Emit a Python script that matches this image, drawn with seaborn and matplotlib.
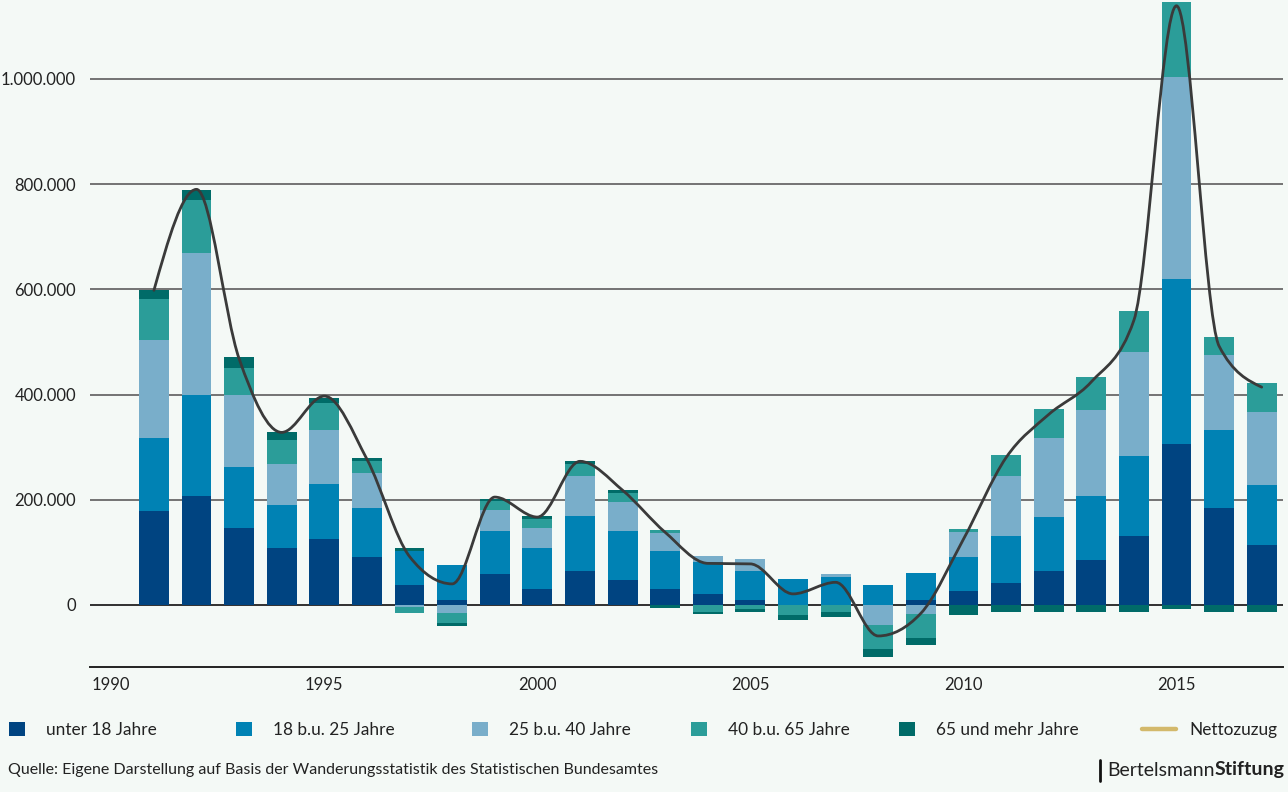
import numpy as np
import pandas as pd
import matplotlib
matplotlib.use("Agg")
import matplotlib.pyplot as plt
from matplotlib.path import Path
from matplotlib.patches import PathPatch, Patch
from matplotlib.lines import Line2D
import seaborn as sns

# ---------------- data (persons) ----------------
years = list(range(1991, 2018))
unter18 = [179000, 207000, 146000, 108000, 125000, 91000, 37000, 10000, 59000, 31000,
           65000, 48000, 30000, 21500, 10000, 0, 0, 0, 10000, 27000,
           42000, 65000, 85000, 131000, 306000, 184000, 114000]
j18_25 = [139000, 192000, 116000, 82000, 104000, 93000, 66000, 66500, 82000, 78000,
          104000, 93000, 72000, 61000, 55000, 50000, 54000, 38500, 51000, 65000,
          89000, 102500, 121500, 152000, 313000, 148000, 114000]
j25_40 = [185500, 270000, 137000, 78000, 103000, 66000, -4600, -16000, 40000, 38000,
          76000, 55000, 34000, 11400, 23000, 0, 5700, -39000, -16500, 46000,
          114000, 150000, 165000, 197500, 384000, 144000, 139000]
j40_65 = [78000, 100600, 51000, 46000, 51000, 23000, -11600, -17700, 17000, 17000,
          23000, 17000, 5700, -12700, -7000, -18400, -12700, -45600, -45600, 5700,
          40000, 55000, 61000, 78000, 144000, 34000, 55000]
j65plus = [17000, 20000, 21000, 15000, 11000, 6000, 5700, -5700, 4000, 5700,
           5700, 5700, -6600, -3800, -5700, -9500, -9500, -15000, -15000, -18400,
           -13000, -13000, -13000, -13000, -7600, -13000, -13000]
nettozuzug = [598000, 790000, 468000, 328000, 397000, 277000, 92000, 40000, 205000, 167000,
              273000, 218000, 138000, 79000, 78000, 21000, 43000, -59000, -16000, 125000,
              280000, 362000, 424000, 541000, 1139000, 492000, 414000]

series_names = ["unter 18 Jahre", "18 b.u. 25 Jahre", "25 b.u. 40 Jahre",
                "40 b.u. 65 Jahre", "65 und mehr Jahre"]
series_vals = [unter18, j18_25, j25_40, j40_65, j65plus]
line_label = "Nettozuzug"
y_ticks = [0, 200000, 400000, 600000, 800000, 1000000]
x_ticks = [1990, 1995, 2000, 2005, 2010, 2015]
source_text = "Quelle: Eigene Darstellung auf Basis der Wanderungsstatistik des Statistischen Bundesamtes"

# ---------------- style ----------------
colors = ["#004481", "#0082b4", "#79aeca", "#2b9d99", "#006b68"]
bg = "#f4f9f6"
line_color = "#3a3a3a"
legend_line_color = "#d3b96b"

sns.set_theme(style="white")
plt.rcParams["font.family"] = ["Lato", "DejaVu Sans"]
plt.rcParams["text.color"] = "#222222"

W, H = 1288, 792
fig = plt.figure(figsize=(W / 100, H / 100), dpi=100, facecolor=bg)
ax = fig.add_axes([90 / W, (H - 667) / H, (1283 - 90) / W, 667 / H])
ax.set_facecolor(bg)

pos_base = np.zeros(len(years))
neg_base = np.zeros(len(years))
for name, vals, col in zip(series_names, series_vals, colors):
    v = np.array(vals, dtype=float)
    pos = np.clip(v, 0, None)
    neg = np.clip(v, None, 0)
    sns.barplot(x=years, y=pos, bottom=pos_base.copy(), native_scale=True, color=col,
                saturation=1, width=0.7, errorbar=None, linewidth=0, ax=ax, zorder=3)
    sns.barplot(x=years, y=neg, bottom=neg_base.copy(), native_scale=True, color=col,
                saturation=1, width=0.7, errorbar=None, linewidth=0, ax=ax, zorder=3)
    pos_base += pos
    neg_base += neg


# smooth monotone curve (cubic Bezier segments) through the net values
def monotone_path(xs, ys):
    xs = np.asarray(xs, float)
    ys = np.asarray(ys, float)
    n = len(xs)
    h = np.diff(xs)
    s = np.diff(ys) / h
    t = np.zeros(n)
    for i in range(1, n - 1):
        h0, h1 = h[i - 1], h[i]
        s0, s1 = s[i - 1], s[i]
        p = (s0 * h1 + s1 * h0) / (h0 + h1)
        t[i] = (np.sign(s0) + np.sign(s1)) * min(abs(s0), abs(s1), 0.5 * abs(p))
    t[0] = (3 * s[0] - t[1]) / 2
    t[-1] = (3 * s[-1] - t[-2]) / 2
    verts = [(xs[0], ys[0])]
    codes = [Path.MOVETO]
    for i in range(n - 1):
        dx = xs[i + 1] - xs[i]
        verts += [(xs[i] + dx / 3, ys[i] + dx * t[i] / 3),
                  (xs[i + 1] - dx / 3, ys[i + 1] - dx * t[i + 1] / 3),
                  (xs[i + 1], ys[i + 1])]
        codes += [Path.CURVE4] * 3
    return Path(verts, codes)


ax.add_patch(PathPatch(monotone_path(years, nettozuzug), fill=False,
                       edgecolor=line_color, linewidth=2.0, zorder=5,
                       capstyle="round", joinstyle="round"))

# axes
ax.set_xlim(1989.5, 2017.5)
ax.set_ylim(-118000, 1150000)
ax.set_xticks(x_ticks)
ax.set_xticklabels([str(x) for x in x_ticks])
ax.set_yticks(y_ticks)
ax.set_yticklabels([f"{v:,.0f}".replace(",", ".") for v in y_ticks])
ax.set_xlabel("")
ax.set_ylabel("")
ax.tick_params(axis="both", length=0, labelsize=12, colors="#222222")
ax.tick_params(axis="y", pad=10)
ax.tick_params(axis="x", pad=7)
ax.yaxis.grid(True, color="#737373", linewidth=1.4, zorder=0)
ax.xaxis.grid(False)
ax.set_axisbelow(True)
ax.axhline(0, color="#222222", linewidth=1.1, zorder=1)
for sp in ["top", "left", "right"]:
    ax.spines[sp].set_visible(False)
ax.spines["bottom"].set_color("#222222")
ax.spines["bottom"].set_linewidth(1.4)

# legend items, placed individually
leg_y = (H - 730) / H
sq_x = [9, 236, 472, 691, 899]
for name, col, x in zip(series_names, colors, sq_x):
    fig.legend(handles=[Patch(facecolor=col, edgecolor="none", label=name)],
               loc="center left", bbox_to_anchor=(x / W, leg_y), frameon=False,
               fontsize=12.4, handlelength=0.92, handleheight=0.92,
               handletextpad=1.2, borderpad=0, borderaxespad=0)
fig.legend(handles=[Line2D([0], [0], color=legend_line_color, linewidth=3.2,
                           solid_capstyle="round", label=line_label)],
           loc="center left", bbox_to_anchor=(1142 / W, leg_y), frameon=False,
           fontsize=12.4, handlelength=1.95, handletextpad=0.8, borderpad=0, borderaxespad=0)

# source + logo
src_y = (H - 770) / H
fig.text(8 / W, src_y, source_text, fontsize=11.5, ha="left", va="center", color="#222222")
t_bold = fig.text(1285 / W, src_y, "Stiftung", fontsize=14, fontweight="bold",
                  ha="right", va="center", color="#222222")
fig.canvas.draw()
bb = t_bold.get_window_extent(renderer=fig.canvas.get_renderer())
t_reg = fig.text(bb.x0 / W, src_y, "Bertelsmann", fontsize=14, ha="right", va="center",
                 color="#222222")
fig.canvas.draw()
bb2 = t_reg.get_window_extent(renderer=fig.canvas.get_renderer())
fig.add_artist(Line2D([(bb2.x0 - 8) / W] * 2, [(H - 781) / H, (H - 760) / H],
                      color="#111111", linewidth=2, transform=fig.transFigure))

fig.savefig("out.png", dpi=100, facecolor=bg)
